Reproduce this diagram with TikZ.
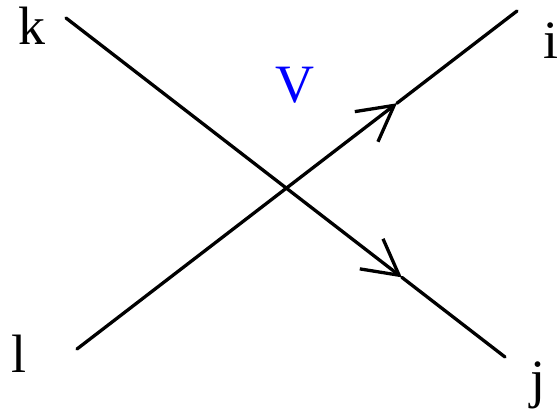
\documentclass[tikz,border=0pt]{standalone}
\usepackage{fontspec}
\setmainfont{Liberation Serif}
\usetikzlibrary{arrows.meta,calc}
\definecolor{vblue}{RGB}{0,0,255}
\begin{document}
\begin{tikzpicture}[x=1pt,y=1pt,
  prop/.style={line width=3.3pt,line cap=round,line join=round},
  arr/.style={prop,-{Straight Barb[length=35pt,width=38pt,line width=3.3pt]}},
  lbl/.style={inner sep=0pt,anchor=base,font=\fontsize{54}{60}\selectfont}]
\useasboundingbox (0,0) rectangle (558,413);
\coordinate (ks) at (66,395);
\coordinate (je) at (505,56);
\coordinate (ls) at (77,64);
\coordinate (ie) at (517,402);
\coordinate (m1) at ($(ls)!0.727!(ie)$);
\coordinate (m2) at ($(ks)!0.765!(je)$);
\draw[arr] (ls) -- (m1);
\draw[prop] (m1) -- (ie);
\draw[arr] (ks) -- (m2);
\draw[prop] (m2) -- (je);
\node[lbl] (k) at (31.5,368) {k};
\node[lbl] (i) at (551,354) {i};
\node[lbl] (l) at (19.5,40) {l};
\node[lbl] (j) at (538,15) {j};
\node[lbl,text=vblue] (v) at (295,310) {V};
\end{tikzpicture}
\end{document}
